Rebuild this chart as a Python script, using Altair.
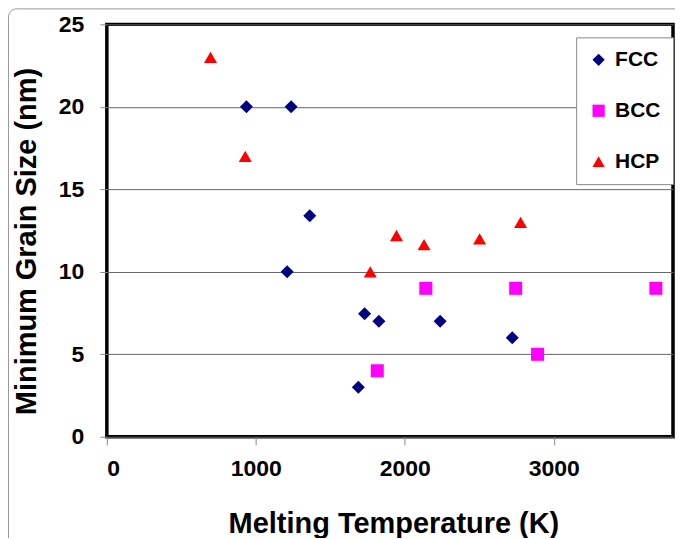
import altair as alt
import pandas as pd

# --- data ---
fcc_temp = [937, 1237, 1362, 1210, 1688, 1730, 1826, 2237, 2721]
fcc_size = [20, 20, 13.4, 10, 3, 7.45, 7, 7, 6]
bcc_temp = [1815, 2141, 2744, 2891, 3685]
bcc_size = [4, 9, 9, 5, 9]
hcp_temp = [696, 929, 1768, 1944, 2129, 2502, 2777]
hcp_size = [23, 17, 10, 12.2, 11.65, 12, 13]

structures = ["FCC", "BCC", "HCP"]
colors = ["#000080", "#FF00FF", "#FF0000"]
shapes = ["diamond", "square", "triangle-up"]
x_ticks = [0, 1000, 2000, 3000]
y_ticks = [0, 5, 10, 15, 20, 25]

rows = []
for t, s in zip(fcc_temp, fcc_size):
    rows.append({"temp": t, "size": s, "type": "FCC"})
for t, s in zip(bcc_temp, bcc_size):
    rows.append({"temp": t, "size": s, "type": "BCC"})
for t, s in zip(hcp_temp, hcp_size):
    rows.append({"temp": t, "size": s, "type": "HCP"})
df = pd.DataFrame(rows)

FONT = "Liberation Sans"

points = alt.Chart(df).mark_point(filled=True, opacity=1, size=170, strokeWidth=0).encode(
    x=alt.X("temp:Q", scale=alt.Scale(domain=[0, 3800], nice=False, zero=False),
            axis=alt.Axis(values=x_ticks, format="d", grid=False, tickSize=8, labelPadding=13,
                          title="Melting Temperature (K)", titleX=287, titleY=96,
                          titleAlign="center", titleBaseline="alphabetic",
                          titleAnchor="start")),
    y=alt.Y("size:Q", scale=alt.Scale(domain=[0, 25], nice=False),
            axis=alt.Axis(values=y_ticks, format="d", grid=True, tickSize=7, labelPadding=16,
                          title="Minimum Grain Size (nm)", titleAngle=270,
                          titleX=-71, titleY=217, titleAlign="center",
                          titleBaseline="alphabetic", titleAnchor="start")),
    color=alt.Color("type:N", scale=alt.Scale(domain=structures, range=colors),
                    legend=alt.Legend(title=None, orient="none", legendX=470, legendY=13,
                                      padding=12, rowPadding=29, labelOffset=6,
                                      strokeColor="#888888", fillColor="white",
                                      symbolSize=150, symbolStrokeWidth=0,
                                      symbolOpacity=1, labelFontSize=21,
                                      labelFontWeight="bold", labelFont=FONT,
                                      labelColor="black")),
    shape=alt.Shape("type:N", scale=alt.Scale(domain=structures, range=shapes)),
)

frame = alt.Chart(alt.Data(values=[{"k": 1}])).mark_rect(
    fill="transparent", stroke="#999999", strokeWidth=1, cornerRadius=8
).encode(
    x=alt.value(-98.5), y=alt.value(-15.5), x2=alt.value(720), y2=alt.value(720)
)

chart = alt.layer(frame, points).properties(
    width=567, height=413,
    autosize=alt.AutoSizeParams(type="none"),
    padding={"left": 99, "top": 16, "right": 2, "bottom": 101},
).configure_view(
    stroke="black", strokeWidth=3.5
).configure_axis(
    domain=False, gridColor="#666666", gridWidth=1, tickColor="#888888",
    labelFont=FONT, labelFontSize=23, labelFontWeight="bold", labelColor="black",
    titleFont=FONT, titleFontSize=29, titleFontWeight="bold", titleColor="black",
)

chart.save("out.html", embed_options={"renderer": "svg", "actions": False})
